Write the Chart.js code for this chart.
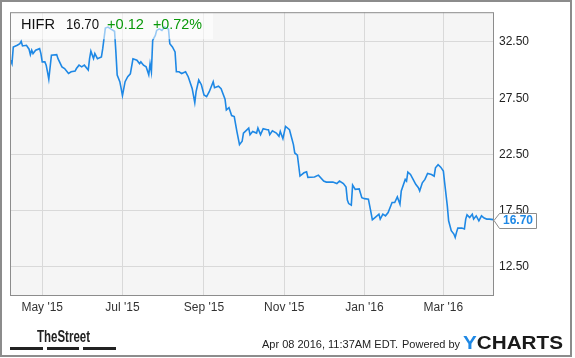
<!DOCTYPE html>
<html>
<head>
<meta charset="utf-8">
<script src="https://cdn.jsdelivr.net/npm/chart.js@4/dist/chart.umd.min.js"></script>
<style>
html,body{margin:0;padding:0;background:#fff;}
#wrap{position:relative;width:575px;height:358px;}
</style>
</head>
<body>
<div id="wrap"><canvas id="c"></canvas></div>
<script>
// Day numbers counted from 2015-04-06 (day 0)
const days = [1,2,3,6,8,9,10,13,15,16,17,18,20,23,24,25,27,28,29,30,32,36,37,40,42,45,47,50,51,53,55,57,60,61,62,64,65,67,70,71,73,75,77,80,81,82,84,85,86,88,90,92,94,97,99,100,102,104,106,107,108,109,111,112,114,116,118,121,122,124,126,127,129,131,134,136,139,141,142,144,146,148,150,152,155,156,159,161,164,165,167,169,171,173,175,177,178,182,183,185,188,189,191,193,196,197,198,200,203,205,206,208,210,213,216,217,219,221,224,226,227,232,235,239,241,246,249,251,254,256,257,258,260,261,263,266,268,270,273,275,276,278,281,282,284,286,288,291,293,295,297,298,301,302,303,305,307,309,311,312,314,316,318,321,323,324,326,328,330,331,333,334,336,338,339,340,341,344,346,347,348,350,352,353,355,357,359,361,363,365,368];
const prices = [30.88,30.58,32.06,32.21,32.35,32.56,32.15,32.21,31.86,31.38,31.77,31.47,31.77,31.91,31.47,30.73,30.73,30.44,29.85,29.20,31.33,31.38,31.02,30.29,30.14,29.70,29.85,29.91,30.14,30.44,30.29,30.44,30.00,31.02,31.68,31.02,31.47,31.02,31.17,31.91,33.74,33.83,33.67,33.45,31.62,29.56,28.97,28.37,27.73,28.97,29.41,29.67,31.00,30.88,30.58,30.73,30.44,30.29,29.58,30.56,29.85,32.65,33.09,33.53,33.67,33.53,33.83,33.65,32.35,32.06,31.62,29.85,29.85,29.70,29.85,29.41,28.37,27.11,28.08,29.12,28.70,27.79,27.64,28.08,28.97,28.44,28.57,28.35,27.42,26.47,26.67,25.96,25.87,24.55,23.37,23.67,24.40,24.84,24.26,24.55,24.40,24.84,24.26,24.79,24.70,24.70,24.26,24.61,24.40,24.11,24.55,23.90,24.99,24.70,23.37,22.63,22.43,20.58,20.87,20.95,20.46,20.49,20.66,20.13,20.04,20.04,19.91,20.13,19.91,19.60,18.45,18.13,17.99,19.78,19.40,19.43,18.66,18.57,18.52,17.33,16.69,16.89,17.19,16.75,17.19,17.04,17.33,18.22,18.22,18.72,18.07,19.25,20.28,20.13,20.93,20.72,20.28,19.84,19.54,19.25,19.98,20.28,20.81,20.72,20.57,21.31,21.59,21.37,21.02,19.96,17.92,16.60,15.72,15.42,15.12,15.57,15.95,15.95,15.87,16.75,17.13,16.89,17.19,16.75,17.04,16.60,17.04,16.84,16.75,16.75,16.70];
const xTickDays = [25,86,148,209,270,330];
const xTickLabels = ["May '15","Jul '15","Sep '15","Nov '15","Jan '16","Mar '16"];
const yTickValues = [12.5,17.5,22.5,27.5,32.5];
const ticker = "HIFR";
const lastPriceText = "16.70";
const changeText = "+0.12";
const changePctText = "+0.72%";
const footerDate = "Apr 08 2016, 11:37AM EDT.";

const FONT = "'Liberation Sans', Arial, sans-serif";
const LINE = '#1e88e5';

function fitText(ctx, text, x, y, width) {
  const w = ctx.measureText(text).width;
  ctx.save();
  ctx.translate(x, y);
  ctx.scale(width / w, 1);
  ctx.fillText(text, 0, 0);
  ctx.restore();
}

const decor = {
  id: 'decor',
  beforeDraw(chart) {
    const {ctx, chartArea: a} = chart;
    ctx.save();
    ctx.fillStyle = '#fff';
    ctx.fillRect(0, 0, chart.width, chart.height);
    ctx.fillStyle = '#f5f5f5';
    ctx.fillRect(a.left, a.top, a.right - a.left, a.bottom - a.top);
    ctx.restore();
  },
  afterDatasetsDraw(chart) {
    const {ctx, chartArea: a} = chart;
    ctx.save();
    ctx.fillStyle = 'rgba(255,255,255,0.55)';
    ctx.fillRect(a.left, a.top, 203, 27);
    ctx.font = '15px ' + FONT;
    ctx.textBaseline = 'alphabetic';
    ctx.fillStyle = '#111';
    ctx.lineWidth = 0.4;
    ctx.strokeStyle = '#111';
    fitText(ctx, ticker, 21, 28.5, 34);
    fitText(ctx, lastPriceText, 66, 28.5, 33);
    ctx.fillStyle = '#0a990a';
    fitText(ctx, changeText, 107, 28.5, 37);
    fitText(ctx, changePctText, 153, 28.5, 49);
    ctx.restore();
  },
  afterDraw(chart) {
    const {ctx, chartArea: a} = chart;
    const ys = chart.scales.y;
    ctx.save();
    // plot border
    ctx.strokeStyle = '#8c8c8c';
    ctx.lineWidth = 1;
    ctx.strokeRect(a.left + 0.5, a.top + 0.5, a.right - a.left - 1, a.bottom - a.top);
    // last value tag
    const ty = Math.round(ys.getPixelForValue(prices[prices.length - 1]));
    const bx = 499, bw = 37, bh = 15, by = ty - 7;
    ctx.beginPath();
    ctx.moveTo(a.right, ty + 0.5);
    ctx.lineTo(bx + 0.5, by + 0.5);
    ctx.lineTo(bx + bw + 0.5, by + 0.5);
    ctx.lineTo(bx + bw + 0.5, by + bh + 0.5);
    ctx.lineTo(bx + 0.5, by + bh + 0.5);
    ctx.closePath();
    ctx.fillStyle = '#fff';
    ctx.fill();
    ctx.strokeStyle = '#8c8c8c';
    ctx.stroke();
    ctx.fillStyle = LINE;
    ctx.font = 'bold 12px ' + FONT;
    ctx.textAlign = 'center';
    ctx.textBaseline = 'middle';
    ctx.fillText(lastPriceText, bx + bw / 2 + 0.5, ty + 1);
    // TheStreet logo
    ctx.textAlign = 'left';
    ctx.textBaseline = 'alphabetic';
    ctx.fillStyle = '#222';
    ctx.font = "bold 16px 'Liberation Sans Narrow', 'Liberation Sans', Arial, sans-serif";
    fitText(ctx, 'TheStreet', 37, 342, 53);
    ctx.fillRect(10, 347, 33, 3);
    ctx.fillRect(47, 347, 32, 3);
    ctx.fillRect(83, 347, 33, 3);
    // footer
    ctx.font = '11px ' + FONT;
    ctx.fillStyle = '#222';
    ctx.fillText(footerDate, 262, 348);
    ctx.fillText('Powered by', 402, 348);
    // YCHARTS logo
    ctx.font = 'bold 19px ' + FONT;
    const full = ctx.measureText('YCHARTS').width;
    const yw = ctx.measureText('Y').width;
    ctx.save();
    ctx.translate(463, 348.5);
    ctx.scale(100 / full, 1);
    ctx.fillStyle = LINE;
    ctx.fillText('Y', 0, 0);
    ctx.fillStyle = '#1a1a1a';
    ctx.fillText('CHARTS', yw, 0);
    ctx.restore();
    // outer frame
    ctx.strokeStyle = '#8c8c8c';
    ctx.lineWidth = 2;
    ctx.strokeRect(1, 1, 570, 355);
    ctx.restore();
  }
};

new Chart(document.getElementById('c'), {
  type: 'line',
  data: {
    datasets: [{
      data: days.map((d, i) => ({x: d, y: prices[i]})),
      borderColor: LINE,
      borderWidth: 1.6,
      pointRadius: 0,
      tension: 0,
      fill: false
    }]
  },
  options: {
    responsive: true,
    maintainAspectRatio: false,
    animation: false,
    layout: {padding: {left: 10, top: 10, right: 0, bottom: 43}},
    plugins: {legend: {display: false}, tooltip: {enabled: false}},
    scales: {
      x: {
        type: 'linear',
        min: 0.5,
        max: 368.5,
        afterBuildTicks(s) { s.ticks = xTickDays.map(v => ({value: v})); },
        afterFit(s) { s.height = 20; },
        grid: {color: '#d9d9d9', drawTicks: false},
        border: {display: false},
        ticks: {
          padding: 5,
          color: '#333',
          font: {family: FONT, size: 12},
          maxRotation: 0,
          autoSkip: false,
          callback(v) { const i = xTickDays.indexOf(v); return i >= 0 ? xTickLabels[i] : ''; }
        }
      },
      y: {
        position: 'right',
        min: 10,
        max: 35.15,
        afterBuildTicks(s) { s.ticks = yTickValues.map(v => ({value: v})); },
        afterFit(s) { s.width = 81; },
        grid: {color: '#d9d9d9', drawTicks: false},
        border: {display: false},
        ticks: {
          padding: 5,
          color: '#222',
          font: {family: FONT, size: 12},
          callback(v) { return Number(v).toFixed(2); }
        }
      }
    }
  },
  plugins: [decor]
});
</script>
</body>
</html>
